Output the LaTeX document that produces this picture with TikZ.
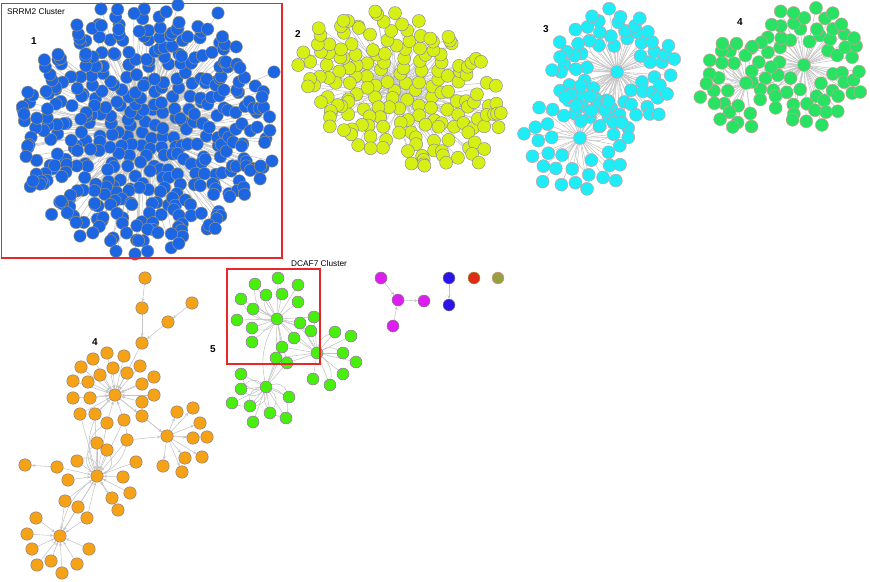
\documentclass[tikz,border=0pt]{standalone}
\usepackage{fontspec}
\setmainfont{Liberation Sans}
\usetikzlibrary{arrows.meta}
\pgfdeclarelayer{bg}
\pgfsetlayers{bg,main}
\definecolor{cBlue}{RGB}{28,102,228}
\definecolor{cBlueB}{RGB}{160,150,110}
\definecolor{cYel}{RGB}{214,240,22}
\definecolor{cYelB}{RGB}{140,130,175}
\definecolor{cCyan}{RGB}{30,236,246}
\definecolor{cCyanB}{RGB}{225,150,160}
\definecolor{cGrn}{RGB}{40,226,100}
\definecolor{cGrnB}{RGB}{225,150,160}
\definecolor{cOra}{RGB}{246,162,22}
\definecolor{cOraB}{RGB}{120,120,150}
\definecolor{cLime}{RGB}{72,238,12}
\definecolor{cLimeB}{RGB}{175,90,205}
\definecolor{cMag}{RGB}{222,30,240}
\definecolor{cDBlue}{RGB}{44,20,232}
\definecolor{cRed}{RGB}{222,44,22}
\definecolor{cOli}{RGB}{150,160,64}
\definecolor{cEdge}{RGB}{196,196,196}
\definecolor{cFrame}{RGB}{232,40,40}
\tikzset{
  nd/.style={circle,inner sep=0pt,minimum size=12pt,line width=0.45pt},
  bn/.style={nd,minimum size=12.5pt,fill=cBlue,draw=cBlueB},
  yn/.style={nd,minimum size=13pt,fill=cYel,draw=cYelB},
  cn/.style={nd,minimum size=13pt,fill=cCyan,draw=cCyanB},
  gn/.style={nd,minimum size=13pt,fill=cGrn,draw=cGrnB},
  on/.style={nd,minimum size=12.5pt,fill=cOra,draw=cOraB},
  ln/.style={nd,minimum size=12pt,fill=cLime,draw=cLimeB},
  mn/.style={nd,fill=cMag,draw=gray},
  dn/.style={nd,fill=cDBlue,draw=gray},
  rn/.style={nd,fill=cRed,draw=cOli},
  olv/.style={nd,fill=cOli,draw=cCyanB},
  edge/.style={draw=cEdge,line width=0.55pt},
  arr/.style={edge,-{Stealth[length=3.5pt,width=3pt]}},
  lbl/.style={font=\bfseries\fontsize{10}{12}\selectfont},
  ttl/.style={anchor=west,inner sep=0pt,font=\fontsize{8.3}{10}\selectfont},
  frame/.style={draw=cFrame,line width=1.3pt}
}
\begin{document}
\begin{tikzpicture}[x=1pt,y=-1pt]
\useasboundingbox (0,0) rectangle (870,581);

% ---------------- cluster 1 (blue) ----------------
\pgfmathsetseed{7}
\foreach \i in {1,...,420}{
  \pgfmathsetmacro\rad{121*sqrt((\i-0.5)/420)+5*rand}
  \pgfmathsetmacro\ang{360*frac(\i*0.381966)+8*rand}
  \node[bn] (a\i) at ({145+1.04*\rad*cos(\ang)},{130+\rad*sin(\ang)}) {};
}
\foreach \n/\x/\y in {1/101/9,2/178/5,3/218/13,4/274/72,5/272/161,6/80/236,7/135/254,8/24/114,9/33/181,10/262/97}
  \node[bn] (ax\n) at (\x,\y) {};
\begin{pgfonlayer}{bg}
\foreach \i in {2,...,420}{
  \pgfmathtruncatemacro\h{1+mod(\i,5)}
  \draw[edge] (a\h) -- (a\i);
}
\foreach \n in {1,...,10} \draw[edge] (a1) -- (ax\n);
\end{pgfonlayer}

% ---------------- cluster 2 (yellow) ----------------
\pgfmathsetseed{11}
\foreach \i in {1,...,175}{
  \pgfmathsetmacro\rad{sqrt((\i-0.5)/175)+0.04*rand}
  \pgfmathsetmacro\ang{360*frac(\i*0.381966)+8*rand}
  \pgfmathsetmacro\uu{\rad*cos(\ang)}
  \pgfmathsetmacro\vv{\rad*sin(\ang)}
  \node[yn] (y\i) at ({402+99.7*\uu-30.4*\vv},{90+46.5*\uu+65.2*\vv}) {};
}
\begin{pgfonlayer}{bg}
\foreach \i in {2,...,175}{
  \pgfmathtruncatemacro\h{1+mod(\i,4)}
  \draw[edge] (y\h) -- (y\i);
}
\end{pgfonlayer}

% ---------------- cluster 3 (cyan) ----------------
\pgfmathsetseed{5}
\foreach \i in {1,...,72}{
  \pgfmathsetmacro\rad{sqrt(625+2975*((\i-0.5)/72))+2.5*rand}
  \pgfmathsetmacro\ang{360*frac(\i*0.381966)+5*rand}
  \node[cn] (cA\i) at ({614+1.05*\rad*cos(\ang)},{70+\rad*sin(\ang)}) {};
}
\foreach \i in {1,...,38}{
  \pgfmathsetmacro\rad{sqrt(400+2625*((\i-0.5)/38))+2.5*rand}
  \pgfmathsetmacro\ang{360*frac(\i*0.381966)+5*rand}
  \node[cn] (cB\i) at ({578+\rad*cos(\ang)},{141+\rad*sin(\ang)}) {};
}
\node[cn] (cA) at (617,72) {};
\node[cn] (cB) at (580,138) {};
\begin{pgfonlayer}{bg}
\foreach \i in {1,...,72} \draw[edge] (cA) -- (cA\i);
\foreach \i in {1,...,38} \draw[edge] (cB) -- (cB\i);
\foreach \b in {-40,-25,-10,10,25,40} \draw[edge] (cA) to[bend left=\b] (cB);
\foreach \i in {3,9,14,22,30,41,47,55} \draw[edge] (cA) to[bend left=35] (cA\i);
\foreach \i in {4,11,19,26,33} \draw[edge] (cB) to[bend right=35] (cB\i);
\end{pgfonlayer}

% ---------------- cluster 4 top (green) ----------------
\pgfmathsetseed{3}
\foreach \i in {1,...,66}{
  \pgfmathsetmacro\rad{sqrt(484+3116*((\i-0.5)/66))+2.5*rand}
  \pgfmathsetmacro\ang{360*frac(\i*0.381966)+5*rand}
  \node[gn] (gB\i) at ({806+\rad*cos(\ang)},{65+\rad*sin(\ang)}) {};
}
\foreach \i in {1,...,24}{
  \pgfmathsetmacro\rad{sqrt(400+1904*((\i-0.5)/24))+2*rand}
  \pgfmathsetmacro\ang{75+210*frac(\i*0.381966)+5*rand}
  \node[gn] (gA\i) at ({746+\rad*cos(\ang)},{83+\rad*sin(\ang)}) {};
}
\node[gn] (gA) at (746,83) {};
\node[gn] (gB) at (804,65) {};
\begin{pgfonlayer}{bg}
\foreach \i in {1,...,66} \draw[edge] (gB) -- (gB\i);
\foreach \i in {1,...,24} \draw[edge] (gA) -- (gA\i);
\foreach \b in {-35,-20,-8,8,20,35} \draw[edge] (gA) to[bend left=\b] (gB);
\foreach \i in {2,7,12,18,23} \draw[edge] (gA) to[bend left=40] (gA\i);
\end{pgfonlayer}

% ---------------- cluster 4 bottom (orange) ----------------
\node[on] (o1) at (145,278) {};
\node[on] (o2) at (142,308) {};
\node[on] (o3) at (192,303) {};
\node[on] (o4) at (168,322) {};
\node[on] (o5) at (142,343) {};
\node[on] (oH1) at (115,395) {};
\foreach \n/\x/\y in {1/107/353,2/124/356,3/93/359,4/81/367,5/113/368,6/127/373,7/100/375,8/140/366,9/73/381,10/88/382,11/142/384,12/154/377,13/73/398,14/90/398,15/154/395,16/142/402,17/80/414,18/95/414}
  \node[on] (op\n) at (\x,\y) {};
\node[on] (oq1) at (107,423) {};
\node[on] (oq2) at (124,420) {};
\node[on] (oq3) at (142,416) {};
\node[on] (oH2) at (167,436) {};
\foreach \n/\x/\y in {1/177/412,2/193/408,3/200/423,4/193/438,5/207/437,6/202/457,7/185/458,8/163/466,9/182/472}
  \node[on] (or\n) at (\x,\y) {};
\node[on] (oq4) at (127,440) {};
\node[on] (oH3) at (97,476) {};
\foreach \n/\x/\y in {1/97/443,2/107/450,3/77/461,4/57/467,5/68/480,6/123/477,7/130/493,8/112/498,9/118/510,10/136/462}
  \node[on] (os\n) at (\x,\y) {};
\node[on] (ox) at (25,465) {};
\node[on] (oq5) at (65,501) {};
\node[on] (oq6) at (78,507) {};
\node[on] (oq7) at (87,518) {};
\node[on] (oH4) at (60,536) {};
\foreach \n/\x/\y in {1/36/518,2/27/534,3/32/549,4/37/565,5/51/561,6/62/573,7/77/564,8/89/549}
  \node[on] (ot\n) at (\x,\y) {};
\begin{pgfonlayer}{bg}
\draw[arr] (o1) -- (o2);
\draw[arr] (o2) -- (o5);
\draw[arr] (o3) -- (o4);
\draw[arr] (o4) -- (o5);
\draw[arr] (o5) -- (oH1);
\foreach \n in {1,...,18} \draw[arr] (op\n) -- (oH1);
\draw[arr] (oq1) -- (oH1);
\draw[arr] (oq2) -- (oH1);
\draw[arr] (oH1) -- (oq3);
\draw[arr] (oq3) -- (oH2);
\draw[arr] (oH1) -- (oH2);
\foreach \n in {1,...,9} \draw[arr] (oH2) -- (or\n);
\draw[arr] (oq4) -- (oH2);
\draw[arr] (oq4) -- (oH3);
\foreach \n in {1,...,10} \draw[arr] (os\n) -- (oH3);
\draw[arr] (os4) -- (ox);
\draw[arr] (oq1) -- (oH3);
\draw[arr] (oq2) -- (oH3);
\draw[arr] (op17) -- (oH3);
\draw[arr] (op18) -- (oH3);
\draw[edge] (oH3) to[bend left=50] (os1);
\draw[edge] (oH3) to[bend right=50] (os2);
\draw[edge] (oH3) to[bend right=60] (os3);
\draw[edge] (oH3) to[bend left=45] (oq1);
\draw[edge] (oH3) to[bend right=40] (oq2);
\draw[edge] (oH3) to[bend left=35] (oH1);
\draw[arr] (oq5) -- (oH4);
\draw[arr] (oq6) -- (oH4);
\draw[arr] (oq7) -- (oH4);
\draw[arr] (oq5) -- (oH3);
\draw[arr] (oq6) -- (oH3);
\draw[arr] (oq7) -- (oH3);
\draw[arr] (oH3) -- (oH4);
\draw[edge] (oH4) to[bend left=20] (oH3);
\foreach \n in {1,...,8} \draw[arr] (ot\n) -- (oH4);
\end{pgfonlayer}

% ---------------- cluster 5 (lime) ----------------
\node[ln] (lA) at (277,319) {};
\foreach \n/\x/\y in {1/255/284,2/278/278,3/298/285,4/241/299,5/266/295,6/282/294,7/298/302,8/253/309,9/237/320,10/252/328,11/252/342,12/300/323,13/314/317,14/311/331,15/294/338}
  \node[ln] (la\n) at (\x,\y) {};
\node[ln] (lx1) at (282,347) {};
\node[ln] (lx2) at (276,358) {};
\node[ln] (lx3) at (287,363) {};
\node[ln] (lB) at (317,353) {};
\foreach \n/\x/\y in {1/335/332,2/351/336,3/343/353,4/356/362,5/343/374,6/330/385,7/313/379}
  \node[ln] (lb\n) at (\x,\y) {};
\node[ln] (lC) at (266,387) {};
\foreach \n/\x/\y in {1/241/374,2/241/389,3/232/403,4/250/406,5/270/413,6/286/418,7/253/422,8/289/397}
  \node[ln] (lc\n) at (\x,\y) {};
\begin{pgfonlayer}{bg}
\foreach \n in {1,...,15} \draw[edge] (lA) -- (la\n);
\foreach \n in {1,4,5,8,10} \draw[edge] (lA) to[bend left=35] (la\n);
\foreach \n in {12,13,14,15} \draw[edge] (la\n) -- (lB);
\foreach \n in {1,2,3} {\draw[edge] (lA) -- (lx\n); \draw[edge] (lx\n) -- (lC); \draw[edge] (lx\n) -- (lB);}
\draw[edge] (lA) -- (lB);
\draw[edge] (lA) to[bend left=25] (lB);
\draw[edge] (lA) to[bend right=20] (lC);
\draw[edge] (lA) to[bend left=20] (lC);
\foreach \n in {1,...,7} \draw[edge] (lB) -- (lb\n);
\foreach \n in {1,3,6} \draw[edge] (lB) to[bend left=30] (lb\n);
\foreach \n in {1,...,8} \draw[edge] (lC) -- (lc\n);
\foreach \n in {1,2,3,4,5,6,8} \draw[edge] (lC) to[bend left=45] (lc\n);
\foreach \n in {2,4,6} \draw[edge] (lC) to[bend right=45] (lc\n);
\end{pgfonlayer}

% ---------------- small clusters ----------------
\node[mn] (mA) at (381,278) {};
\node[mn] (mB) at (398,300) {};
\node[mn] (mC) at (424,301) {};
\node[mn] (mD) at (393,326) {};
\node[dn] (bA) at (449,278) {};
\node[dn] (bB) at (449,305) {};
\node[rn] (rA) at (474,278) {};
\node[olv] (gO) at (498,278) {};
\begin{pgfonlayer}{bg}
\draw[arr] (mA) -- (mB);
\draw[arr] (mB) -- (mC);
\draw[arr] (mD) -- (mB);
\draw[arr] (bA) -- (bB);
\end{pgfonlayer}

% ---------------- labels and frames ----------------
\node[lbl] (L1) at (34,41) {1};
\node[lbl] (L2) at (298,34) {2};
\node[lbl] (L3) at (546,29) {3};
\node[lbl] (L4) at (740,22) {4};
\node[lbl] (L4b) at (95,342) {4};
\node[lbl] (L5) at (213,349) {5};
\node[ttl] (T1) at (7,12) {SRRM2 Cluster};
\node[ttl] (T2) at (291,264) {DCAF7 Cluster};
\draw[frame] (1.5,3.5) rectangle (282,258);
\draw[frame] (227,269) rectangle (320,364);
\end{tikzpicture}
\end{document}
